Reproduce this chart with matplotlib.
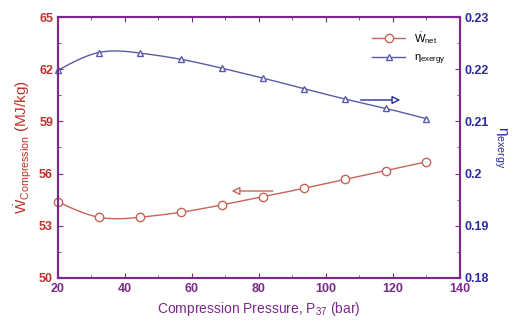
import numpy as np
import matplotlib.pyplot as plt
from matplotlib.ticker import MultipleLocator, FixedLocator, FixedFormatter

plt.rcParams['font.family'] = ['Liberation Sans', 'DejaVu Sans']
plt.rcParams['mathtext.fontset'] = 'custom'
plt.rcParams['mathtext.rm'] = 'Liberation Sans'
plt.rcParams['mathtext.it'] = 'Liberation Sans:italic'

pressure = [20, 32.2, 44.4, 56.7, 68.9, 81.1, 93.3, 105.6, 117.8, 130]
w_net = [54.38, 53.49, 53.49, 53.78, 54.2, 54.67, 55.15, 55.67, 56.17, 56.68]
eta_exergy = [0.2198, 0.2232, 0.2231, 0.2219, 0.2202, 0.2183, 0.2163, 0.2143, 0.2125, 0.2105]
w_ticks = [50, 53, 56, 59, 62, 65]
eta_ticks = [0.18, 0.19, 0.20, 0.21, 0.22, 0.23]
eta_labels = ['0.18', '0.19', '0.2', '0.21', '0.22', '0.23']

red = '#c8645a'
red_txt = '#c0302a'
blue = '#5a5aa8'
blue_txt = '#2a2aa0'
purple = '#7a2a88'


def spline(x, y, n=200):
    # natural cubic spline through the points, only for a smooth line
    x = np.asarray(x, float)
    y = np.asarray(y, float)
    k = len(x)
    h = np.diff(x)
    A = np.zeros((k, k))
    b = np.zeros(k)
    A[0, 0] = A[-1, -1] = 1
    for i in range(1, k - 1):
        A[i, i - 1] = h[i - 1]
        A[i, i] = 2 * (h[i - 1] + h[i])
        A[i, i + 1] = h[i]
        b[i] = 6 * ((y[i + 1] - y[i]) / h[i] - (y[i] - y[i - 1]) / h[i - 1])
    m = np.linalg.solve(A, b)
    xs = np.linspace(x[0], x[-1], n)
    j = np.clip(np.searchsorted(x, xs) - 1, 0, k - 2)
    t = xs - x[j]
    hj = h[j]
    a = (m[j + 1] - m[j]) / (6 * hj)
    c = (y[j + 1] - y[j]) / hj - hj * (2 * m[j] + m[j + 1]) / 6
    ys = y[j] + c * t + m[j] / 2 * t ** 2 + a * t ** 3
    return xs, ys


fig = plt.figure(figsize=(5.15, 3.21), dpi=100)
ax = fig.add_axes([0.1126, 0.134, 0.7806, 0.813])
ax2 = ax.twinx()

xs, ys = spline(pressure, w_net)
ax.plot(xs, ys, color=red, lw=1)
ax.plot(pressure, w_net, 'o', color=red, mfc='white', ms=6, mew=1, clip_on=False)
xs, ys = spline(pressure, eta_exergy)
ax2.plot(xs, ys, color=blue, lw=1)
ax2.plot(pressure, eta_exergy, '^', color=blue, mfc='white', ms=5, mew=1, clip_on=False)

# legend handles
ax2.plot([], [], '-o', color=red, mfc='white', ms=6, lw=1, label=r'$\dot{\mathrm{W}}_{\mathrm{net}}$')
ax2.plot([], [], '-^', color=blue, mfc='white', ms=5, lw=1, label=r'η$_{\mathrm{exergy}}$')
leg = ax2.legend(loc='upper right', bbox_to_anchor=(0.99, 0.99), frameon=False,
                 fontsize=8, handlelength=3, labelspacing=0.6)

ax.annotate('', xy=(71, 55.0), xytext=(85, 55.0),
            arrowprops=dict(arrowstyle='-|>', color=red, fc='white', lw=1, mutation_scale=12))
ax2.annotate('', xy=(123, 0.2141), xytext=(109.5, 0.2141),
             arrowprops=dict(arrowstyle='-|>', color=blue_txt, fc='white', lw=1, mutation_scale=12))

ax.set_xlim(20, 140)
ax.set_ylim(50, 65)
ax2.set_ylim(0.18, 0.23)
ax.xaxis.set_major_locator(MultipleLocator(20))
ax.xaxis.set_minor_locator(MultipleLocator(10))
ax.yaxis.set_major_locator(FixedLocator(w_ticks))
ax.yaxis.set_minor_locator(FixedLocator([t + 1.5 for t in w_ticks[:-1]]))
ax2.yaxis.set_major_locator(FixedLocator(eta_ticks))
ax2.yaxis.set_major_formatter(FixedFormatter(eta_labels))
ax2.yaxis.set_minor_locator(FixedLocator([t + 0.005 for t in eta_ticks[:-1]]))

ax.tick_params(axis='x', which='both', direction='in', top=True, colors=purple,
               labelsize=9)
ax.tick_params(axis='y', which='both', direction='in', colors=purple, labelcolor=red_txt,
               labelsize=9)
ax2.tick_params(axis='y', which='both', direction='in', colors=purple, labelcolor=blue_txt,
                labelsize=9)
for a in (ax, ax2):
    for t in a.get_xticklabels() + a.get_yticklabels():
        t.set_fontweight('bold')
    for s in a.spines.values():
        s.set_color(purple)
        s.set_linewidth(1.5)

ax.set_xlabel(r'Compression Pressure, P$_{37}$ (bar)', color=purple, fontsize=10)
ax.set_ylabel(r'$\dot{\mathrm{W}}_{\mathrm{Compression}}$ (MJ/kg)', color=red_txt, fontsize=11)
ax2.set_ylabel(r'η$_{\mathrm{exergy}}$', color=blue_txt, fontsize=11, rotation=270,
               labelpad=14)

plt.savefig('out.png', dpi=100)
